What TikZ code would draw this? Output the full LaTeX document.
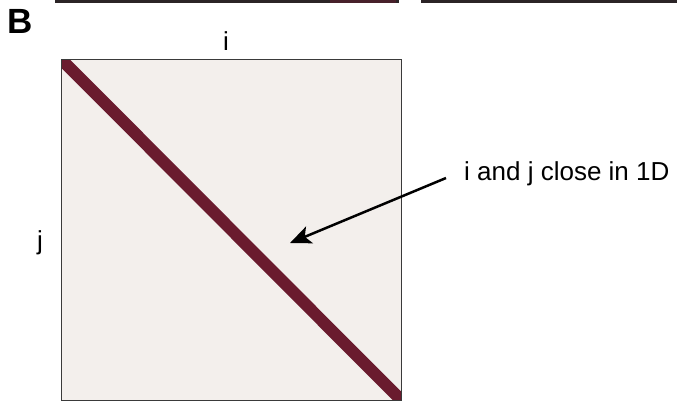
\documentclass[tikz,border=0pt]{standalone}
\usepackage{fontspec}
\setmainfont{Liberation Sans}
\usetikzlibrary{arrows.meta}
\definecolor{bandred}{HTML}{6A1B2E}
\definecolor{matbg}{HTML}{F3EFEC}
\definecolor{edgegray}{HTML}{3A3A3A}
\definecolor{toppanel}{HTML}{2B2426}
\begin{document}
\begin{tikzpicture}[x=1pt,y=-1pt,
  lbl/.style={font=\fontsize{26}{30}\selectfont, inner sep=0pt},
  bigletter/.style={font=\fontsize{35}{38}\selectfont\bfseries, inner sep=0pt},
  pointer/.style={line width=2.5pt, draw=black, -{Stealth[length=21pt,width=18pt,inset=5pt]}}]
\useasboundingbox (0,0) rectangle (677,402);
\fill[white] (0,0) rectangle (677,402);
% cropped edges of panels above
\fill[toppanel] (55,-2) rectangle (399,3);
\fill[toppanel!55!bandred] (330,-2) rectangle (396,2.5);
\fill[toppanel] (421,-2) rectangle (677,3);
% matrix
\fill[matbg] (61,59) rectangle (401,400);
\begin{scope}
\clip (61,59) rectangle (401,400);
\draw[bandred, line width=12pt] (58,56) -- (404,403);
\end{scope}
\draw[edgegray, line width=1pt] (61,59) rectangle (401,400);
% labels
\node[bigletter, anchor=base west] (B) at (7,33) {B};
\node[lbl, anchor=base] (ilab) at (226,50) {i};
\node[lbl, anchor=base] (jlab) at (40,249) {j};
\node[lbl, anchor=base west] (note) at (464,180) {i and j close in 1D};
\coordinate (astart) at (446,178);
\coordinate (atip) at (290,243);
\draw[pointer] (astart) -- (atip);
\end{tikzpicture}
\end{document}
